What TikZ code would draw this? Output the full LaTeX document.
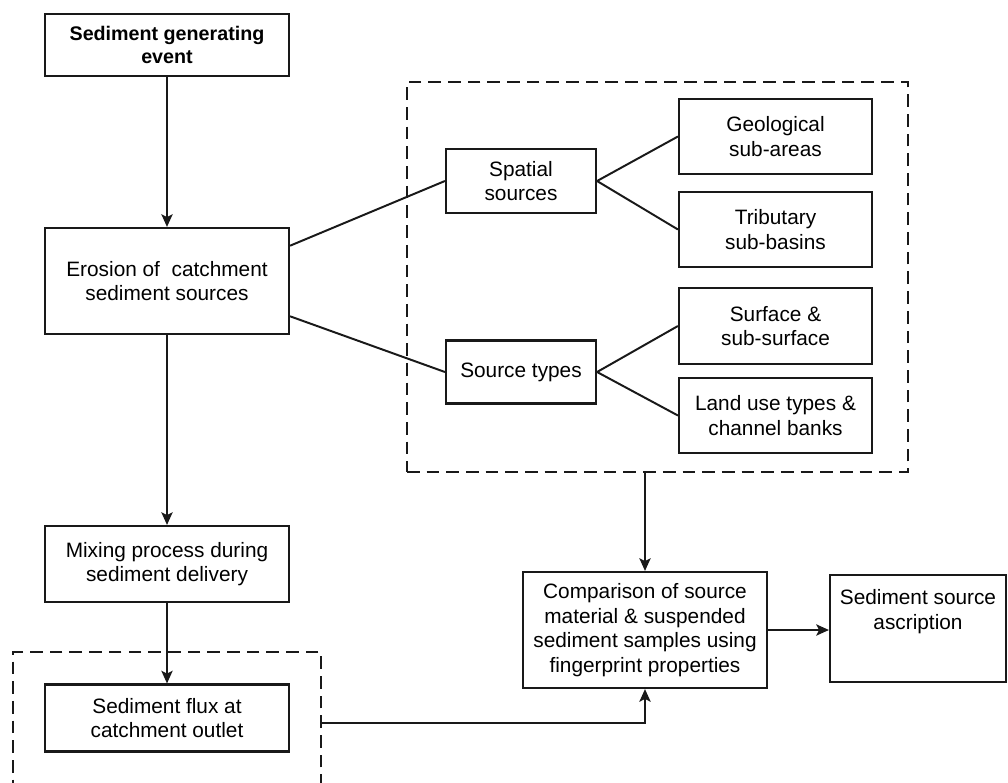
\documentclass[tikz,border=0pt]{standalone}
\usepackage{fontspec}
\setmainfont{Liberation Sans}
\usetikzlibrary{arrows.meta}

\begin{document}
\begin{tikzpicture}[
    x=0.025cm, y=-0.025cm,
    procbox/.style={draw=black!90, line width=1.5pt, inner sep=2pt, align=center, font=\fontsize{14.8}{17.5}\selectfont},
    groupbox/.style={draw=black!90, line width=1.3pt, dash pattern=on 9pt off 5pt, inner sep=0pt},
    link/.style={line width=1.4pt, draw=black!90},
    arrow/.style={line width=1.4pt, -{Stealth[length=9pt, width=8pt, inset=2pt]}, draw=black!90}
]
    \clip (0,0) rectangle (1008,783);

    % left column
    \node[procbox, minimum width=6.1cm, minimum height=1.55cm, font=\fontsize{14}{17}\selectfont\bfseries] (event) at (167,45) {Sediment generating\\event};
    \node[procbox, minimum width=6.1cm, minimum height=2.65cm] (erosion) at (167,281) {Erosion of~ catchment\\sediment sources};
    \node[procbox, minimum width=6.1cm, minimum height=1.9cm] (mixing) at (167,564) {Mixing process during\\sediment delivery};
    \node[procbox, minimum width=6.1cm, minimum height=1.675cm] (outlet) at (167,718) {Sediment flux at\\catchment outlet};
    \node[groupbox, minimum width=7.7cm, minimum height=3.55cm] (outbox) at (167,723) {};

    % source groups
    \node[groupbox, minimum width=12.525cm, minimum height=9.75cm] (srcbox) at (657.5,277) {};
    \node[procbox, minimum width=3.75cm, minimum height=1.6cm] (spatial) at (521,181) {Spatial\\sources};
    \node[procbox, minimum width=3.75cm, minimum height=1.575cm] (srctypes) at (521,372) {Source types};
    \node[procbox, minimum width=4.825cm, minimum height=1.875cm] (geo) at (775.5,136.5) {Geological\\sub-areas};
    \node[procbox, minimum width=4.825cm, minimum height=1.875cm] (trib) at (775.5,229.5) {Tributary\\sub-basins};
    \node[procbox, minimum width=4.825cm, minimum height=1.9cm] (surface) at (775.5,326) {Surface \&\\sub-surface};
    \node[procbox, minimum width=4.825cm, minimum height=1.875cm] (landuse) at (775.5,415.5) {Land use types \&\\channel banks};

    % fingerprinting
    \node[procbox, minimum width=6.1cm, minimum height=2.9cm] (comp) at (645,630) {Comparison of source\\material \& suspended\\sediment samples using\\fingerprint properties};
    \node[procbox, minimum width=4.4cm, minimum height=2.675cm, text depth=0.95cm] (ascr) at (918,628.5) {Sediment source\\ascription};

    \draw[arrow] (event) -- (erosion);
    \draw[arrow] (erosion) -- (mixing);
    \draw[arrow] (mixing) -- (outlet);

    \draw[link] (erosion.16) -- (spatial.west);
    \draw[link] (erosion.-16) -- (srctypes.west);
    \draw[link] (spatial.east) -- (geo.west);
    \draw[link] (spatial.east) -- (trib.west);
    \draw[link] (srctypes.east) -- (surface.west);
    \draw[link] (srctypes.east) -- (landuse.west);

    \draw[arrow] (comp |- srcbox.south) -- (comp);
    \draw[arrow] (outbox.east) -| (comp.south);
    \draw[arrow] (comp.east) -- (comp.east -| ascr.west);
\end{tikzpicture}
\end{document}
